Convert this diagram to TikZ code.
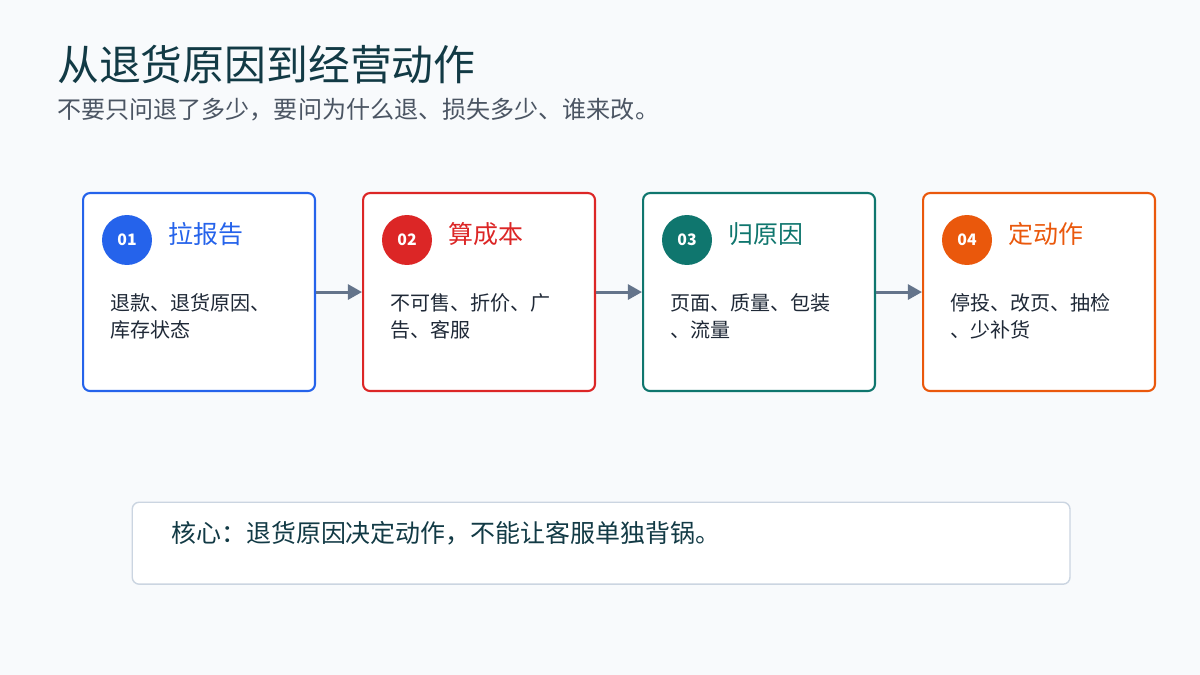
\documentclass[tikz,border=0pt]{standalone}
\usepackage{fontspec}
\setmainfont{Noto Sans CJK SC}
\usetikzlibrary{arrows.meta}
\definecolor{pagebg}{HTML}{F8FAFC}
\definecolor{titlecol}{HTML}{123A45}
\definecolor{subcol}{HTML}{4B5563}
\definecolor{bodycol}{HTML}{1F2937}
\definecolor{linkcol}{HTML}{64748B}
\definecolor{notecol}{HTML}{CBD5E1}
\definecolor{stepA}{HTML}{2563EB}
\definecolor{stepB}{HTML}{DC2626}
\definecolor{stepC}{HTML}{0F766E}
\definecolor{stepD}{HTML}{EA580C}
\begin{document}
\begin{tikzpicture}[x=0.02cm,y=-0.02cm,
  card/.style={draw=#1,line width=1.2pt,fill=white,rounded corners=4pt,
    minimum width=4.64cm,minimum height=3.96cm,inner sep=0,anchor=north west},
  badge/.style={circle,fill=#1,minimum size=1cm,inner sep=0,text=white,
    font=\fontsize{9}{9}\selectfont\bfseries},
  cardtitle/.style={text=#1,anchor=west,inner sep=0,font=\fontsize{14.2}{16}\selectfont},
  cardtext/.style={text=bodycol,anchor=west,inner sep=0,align=left,
    font=\fontsize{11.4}{15.3}\selectfont},
  link/.style={draw=linkcol,line width=1.7pt,-{Triangle[length=8pt,width=8.5pt]}}]
\fill[pagebg] (0,0) rectangle (1200,675);
\node[anchor=west,inner sep=0,text=titlecol,font=\fontsize{23.8}{28}\selectfont] (title) at (57,65) {从退货原因到经营动作};
\node[anchor=west,inner sep=0,text=subcol,font=\fontsize{13.7}{16}\selectfont] (subtitle) at (57,110) {不要只问退了多少，要问为什么退、损失多少、谁来改。};

\node[card=stepA] (report) at (82,192) {};
\node[badge=stepA] (n1) at (127,240) {01};
\node[cardtitle=stepA] (t1) at (168,234) {拉报告};
\node[cardtext] (d1) at (110,316.5) {退款、退货原因、\\库存状态};

\node[card=stepB] (cost) at (362,192) {};
\node[badge=stepB] (n2) at (407,240) {02};
\node[cardtitle=stepB] (t2) at (448,234) {算成本};
\node[cardtext] (d2) at (390,316.5) {不可售、折价、广\\告、客服};

\node[card=stepC] (cause) at (642,192) {};
\node[badge=stepC] (n3) at (687,240) {03};
\node[cardtitle=stepC] (t3) at (728,234) {归原因};
\node[cardtext] (d3) at (670,316.5) {页面、质量、包装\\、流量};

\node[card=stepD] (action) at (922,192) {};
\node[badge=stepD] (n4) at (967,240) {04};
\node[cardtitle=stepD] (t4) at (1008,234) {定动作};
\node[cardtext] (d4) at (950,316.5) {停投、改页、抽检\\、少补货};

\draw[link] (report.east) -- (cost.west);
\draw[link] (cost.east) -- (cause.west);
\draw[link] (cause.east) -- (action.west);

\node[draw=notecol,line width=0.8pt,fill=white,rounded corners=4pt,anchor=north west,
  minimum width=18.76cm,minimum height=1.64cm,inner sep=0] (note) at (131.5,501.5) {};
\node[anchor=west,inner sep=0,text=titlecol,font=\fontsize{14.2}{18}\selectfont] (core) at (171,533) {核心：退货原因决定动作，不能让客服单独背锅。};
\end{tikzpicture}
\end{document}
